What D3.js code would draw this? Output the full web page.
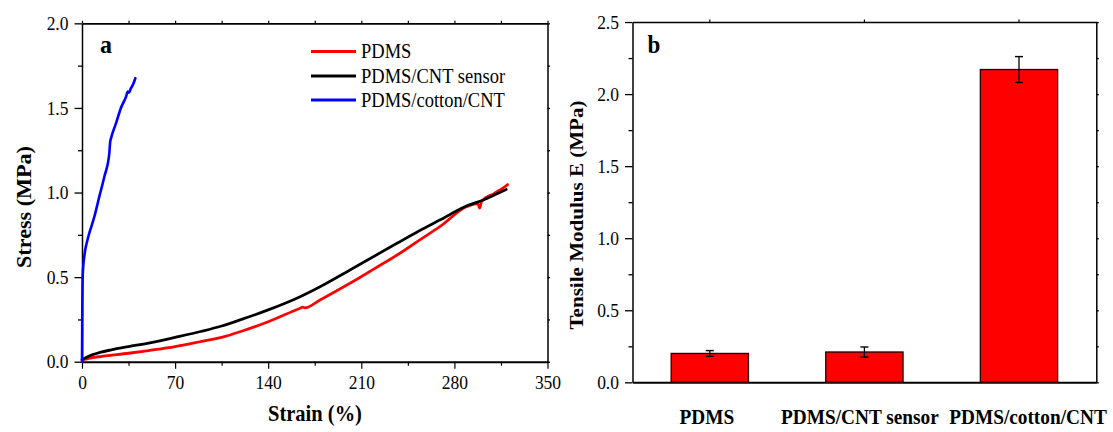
<!DOCTYPE html>
<html>
<head>
<meta charset="utf-8">
<script src="https://cdn.jsdelivr.net/npm/d3@7"></script>
<style>
  html, body { margin: 0; padding: 0; background: #fff; }
  svg { display: block; font-family: "Liberation Serif", "Times New Roman", serif; }
  svg text { font-family: "Liberation Serif", "Times New Roman", serif; }
</style>
</head>
<body>
<svg id="chart"></svg>
<script>
// ---- (a) stress–strain curves: strain in %, stress in MPa ----
const pdmsStrain   = [0, 5, 15, 35, 50, 70, 90, 105, 120, 140, 164, 166, 167.5, 179, 201.5, 220, 239, 254, 269, 289, 297.5, 299, 300.5, 310, 318, 320];
const pdmsStress   = [0.01, 0.02, 0.032, 0.05, 0.066, 0.089, 0.12, 0.144, 0.18, 0.236, 0.316, 0.322, 0.318, 0.365, 0.463, 0.55, 0.641, 0.72, 0.798, 0.916, 0.935, 0.908, 0.948, 0.995, 1.035, 1.047];
const sensorStrain = [0, 3, 8, 13.5, 22, 35, 50, 70, 90, 105, 120, 140, 164, 179, 201.5, 220, 239, 254, 269, 289, 301.7, 310, 319];
const sensorStress = [0.012, 0.025, 0.042, 0.055, 0.07, 0.089, 0.11, 0.144, 0.18, 0.211, 0.25, 0.306, 0.384, 0.443, 0.542, 0.625, 0.709, 0.775, 0.837, 0.92, 0.956, 0.985, 1.018];
const cottonStrain = [0, 0.1, 0.2, 0.35, 0.5, 1.0, 1.7, 2.5, 3.5, 5.5, 7.5, 9.3, 13.0, 16.8, 20.5, 21.2, 21.8, 25.6, 29.3, 33.1, 34.4, 35.2, 36.8, 38.5, 40.1];
const cottonStress = [0, 0.12, 0.28, 0.42, 0.50, 0.57, 0.62, 0.665, 0.70, 0.76, 0.81, 0.857, 0.975, 1.093, 1.23, 1.30, 1.32, 1.41, 1.50, 1.566, 1.596, 1.59, 1.616, 1.64, 1.675];
const seriesNames  = ["PDMS", "PDMS/CNT sensor", "PDMS/cotton/CNT"];
const seriesColors = ["#ff0000", "#000000", "#0000ff"];
const strainTicks  = [0, 70, 140, 210, 280, 350];
const strainMinor  = [35, 105, 175, 245, 315];
const stressTicks  = [0, 0.5, 1.0, 1.5, 2.0];
const stressMinor  = [0.25, 0.75, 1.25, 1.75];

// ---- (b) tensile modulus with standard deviation ----
const sampleNames   = ["PDMS", "PDMS/CNT sensor", "PDMS/cotton/CNT"];
const modulusMean   = [0.20, 0.21, 2.17];
const modulusErr    = [0.02, 0.035, 0.09];
const modulusTicks  = [0, 0.5, 1.0, 1.5, 2.0, 2.5];
const modulusMinor  = [0.25, 0.75, 1.25, 1.75, 2.25];
// horizontal nudge of each category label from its bar centre
const labelShift    = [-3, -4.5, 9];

// The drawing is laid out in a 1113 x 400 space and shown slightly taller.
const W = 1113, H = 432, VH = 400, K = H / VH;
const vy = v => v / K;
const SERIF = '"Liberation Serif", "Times New Roman", serif';

const svg = d3.select("#chart")
  .attr("width", W).attr("height", H)
  .attr("viewBox", `0 0 ${W} ${VH}`)
  .attr("preserveAspectRatio", "none");

const fmt = d3.format(".1f");
const tickFont = 17.5;

function styleAxis(g, width) {
  g.attr("font-family", SERIF).attr("font-size", tickFont);
  g.select(".domain").attr("stroke", "#000").attr("stroke-width", width);
  g.selectAll(".tick line").attr("stroke", "#000").attr("stroke-width", 1.2);
  g.selectAll(".tick text").attr("fill", "#000")
    .attr("font-family", SERIF).attr("font-size", tickFont);
}

// Frame with major/minor ticks on all sides
function frame(x, y, xTicks, xMinor, yTicks, yMinor, labelX, bottomLabels) {
  const [x0, x1] = x.range();
  const [y0, y1] = y.range();

  // bottom
  const gb = svg.append("g").attr("transform", `translate(0,${y0})`);
  if (bottomLabels) {
    gb.call(d3.axisBottom(x).tickValues(xTicks).tickSize(vy(7)).tickSizeOuter(0).tickFormat(d3.format("d")));
    gb.selectAll(".tick text").attr("y", vy(27.8)).attr("dy", 0);
    svg.append("g").attr("transform", `translate(0,${y0})`)
      .call(d3.axisBottom(x).tickValues(xMinor).tickSize(vy(4)).tickFormat(""))
      .call(g => { g.select(".domain").remove(); styleAxis(g, 1); });
  } else {
    gb.call(d3.axisBottom(x).tickValues([]).tickSizeOuter(0));
  }
  styleAxis(gb, 1.8);

  // left
  const gl = svg.append("g").attr("transform", `translate(${x0},0)`)
    .call(d3.axisLeft(y).tickValues(yTicks).tickSize(7.5).tickSizeOuter(0).tickFormat(fmt));
  gl.selectAll(".tick text").attr("x", labelX).attr("dy", "0.33em");
  styleAxis(gl, 1.5);
  svg.append("g").attr("transform", `translate(${x0},0)`)
    .call(d3.axisLeft(y).tickValues(yMinor).tickSize(4).tickFormat(""))
    .call(g => { g.select(".domain").remove(); styleAxis(g, 1); });

  // top (no labels)
  const topVals = bottomLabels ? xTicks.concat(xMinor) : x.domain();
  const gt = svg.append("g").attr("transform", `translate(0,${y1})`)
    .call(d3.axisTop(x).tickValues(topVals).tickSize(vy(2.5)).tickSizeOuter(0).tickFormat(""));
  if (!bottomLabels) gt.selectAll(".tick").attr("transform", d => `translate(${x(d) + x.bandwidth() / 2},0)`);
  styleAxis(gt, 1.5);

  // right (no labels)
  const gr = svg.append("g").attr("transform", `translate(${x1},0)`)
    .call(d3.axisRight(y).tickValues(yTicks.concat(yMinor)).tickSize(2.5).tickSizeOuter(0).tickFormat(""));
  styleAxis(gr, 1.5);
}

// ================= panel (a) =================
const xa = d3.scaleLinear().domain([0, 350]).range([82, 547.5]);
const ya = d3.scaleLinear().domain([0, 2]).range([vy(361.7), vy(23.3)]);

frame(xa, ya, strainTicks, strainMinor, stressTicks, stressMinor, -13.5, true);

const curves = [
  d3.zip(pdmsStrain, pdmsStress),
  d3.zip(sensorStrain, sensorStress),
  d3.zip(cottonStrain, cottonStress)
];
const line = d3.line().x(d => xa(d[0])).y(d => ya(d[1])).curve(d3.curveMonotoneX);
svg.append("g").selectAll("path")
  .data(curves)
  .join("path")
  .attr("d", line)
  .attr("fill", "none")
  .attr("stroke", (d, i) => seriesColors[i])
  .attr("stroke-width", 2.6)
  .attr("stroke-linejoin", "round")
  .attr("stroke-linecap", "round");

// legend
const legendRows = [51.5, 76, 100];
const legend = svg.append("g");
seriesNames.forEach((name, i) => {
  const yy = vy(legendRows[i]);
  legend.append("line")
    .attr("x1", 311).attr("x2", 356).attr("y1", yy).attr("y2", yy)
    .attr("stroke", seriesColors[i]).attr("stroke-width", 2.8);
  legend.append("text")
    .attr("x", 361).attr("y", yy).attr("dy", "0.34em")
    .attr("font-size", 18.5).text(name);
});

svg.append("text").attr("x", 100).attr("y", vy(53))
  .attr("font-size", 24).attr("font-weight", "bold").text("a");

svg.append("text").attr("x", 315).attr("y", vy(421))
  .attr("text-anchor", "middle").attr("font-size", 20.5).attr("font-weight", "bold")
  .text("Strain (%)");

svg.append("text")
  .attr("transform", `translate(30.5,${vy(207)}) rotate(-90)`)
  .attr("text-anchor", "middle").attr("font-size", 20.5).attr("font-weight", "bold")
  .text("Stress (MPa)");

// ================= panel (b) =================
const xb = d3.scaleBand().domain(sampleNames).range([632.5, 1096.3])
  .paddingInner(0.5).paddingOuter(0.25);
const yb = d3.scaleLinear().domain([0, 2.5]).range([vy(382.3), vy(22)]);

frame(xb, yb, [], [], modulusTicks, modulusMinor, -13.5, false);

const bars = svg.append("g");
bars.selectAll("rect")
  .data(modulusMean)
  .join("rect")
  .attr("x", (d, i) => xb(sampleNames[i]))
  .attr("width", xb.bandwidth())
  .attr("y", d => yb(d))
  .attr("height", d => yb(0) - yb(d))
  .attr("fill", "#ff0000")
  .attr("stroke", "#2a0000")
  .attr("stroke-width", 1.3);

// error bars
const errs = svg.append("g").attr("stroke", "#000").attr("stroke-width", 1.3);
modulusMean.forEach((m, i) => {
  const cx = xb(sampleNames[i]) + xb.bandwidth() / 2;
  const lo = yb(m - modulusErr[i]), hi = yb(m + modulusErr[i]);
  errs.append("line").attr("x1", cx).attr("x2", cx).attr("y1", lo).attr("y2", hi);
  errs.append("line").attr("x1", cx - 4).attr("x2", cx + 4).attr("y1", lo).attr("y2", lo);
  errs.append("line").attr("x1", cx - 4).attr("x2", cx + 4).attr("y1", hi).attr("y2", hi);
});

// category labels
svg.append("g").selectAll("text")
  .data(sampleNames)
  .join("text")
  .attr("x", (d, i) => xb(d) + xb.bandwidth() / 2 + labelShift[i])
  .attr("y", vy(424))
  .attr("text-anchor", "middle")
  .attr("font-size", 19.3).attr("font-weight", "bold")
  .text(d => d);

svg.append("text").attr("x", 647.5).attr("y", vy(53))
  .attr("font-size", 23).attr("font-weight", "bold").text("b");

svg.append("text")
  .attr("transform", `translate(583,${vy(215)}) rotate(-90)`)
  .attr("text-anchor", "middle").attr("font-size", 19.5).attr("font-weight", "bold")
  .text("Tensile Modulus E (MPa)");
</script>
</body>
</html>
